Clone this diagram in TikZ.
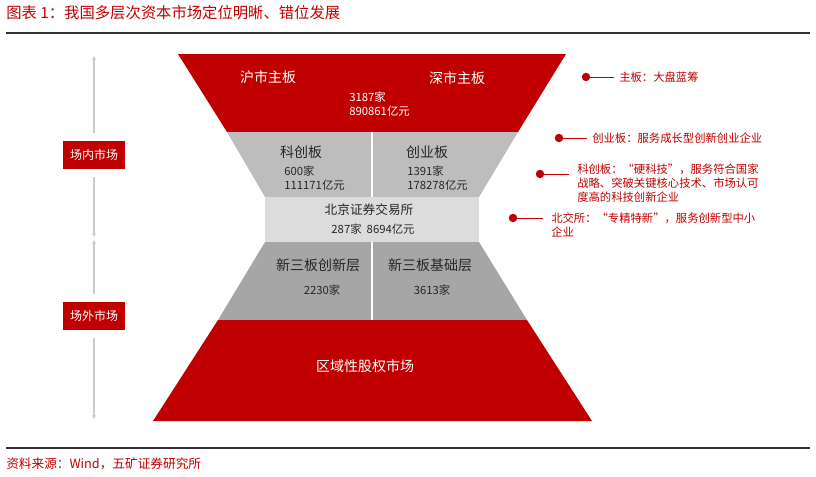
\documentclass[tikz,border=0pt]{standalone}
\usepackage{fontspec}
\usetikzlibrary{arrows.meta}
\setmainfont{Noto Sans CJK SC}
\begin{document}
\begin{tikzpicture}[x=0.75pt,y=-0.75pt,
  every node/.style={font=\fontsize{8.5}{10.5}\selectfont, inner sep=0pt},
  wt/.style={text=white},
  bt/.style={text=black!85},
  rt/.style={text=myred, anchor=west, align=left},
  mbox/.style={fill=myred, text=white, minimum width=46pt, minimum height=21pt, font=\fontsize{9}{10}\selectfont},
  ax/.style={draw=gray!40, line width=0.8pt, -{Stealth[length=3pt,width=3pt]}},
  leg/.style={draw=myred, line width=0.6pt}]
\definecolor{myred}{HTML}{C00000}
\definecolor{mygray}{HTML}{A6A6A6}
\definecolor{mygray2}{HTML}{BDBDBD}
\definecolor{mylight}{HTML}{DCDCDC}
\useasboundingbox (0,0) rectangle (816,476);
\node[anchor=west, text=myred, font=\fontsize{11.5}{13}\selectfont] (title) at (6,13) {图表 1：我国多层次资本市场定位明晰、错位发展};
\draw[line width=1pt, black!80] (6,33) -- (810,33);
\draw[line width=1pt, black!80] (6,448) -- (810,448);
\node[anchor=west, text=myred, font=\fontsize{9.5}{11}\selectfont] (src) at (6,464) {资料来源：Wind，五矿证券研究所};
% funnel
\fill[myred] (178,54) -- (566,54) -- (518,132) -- (227,132) -- cycle;
\fill[mygray2] (227,132) -- (518,132) -- (479,197) -- (265,197) -- cycle;
\fill[mylight] (265,197) rectangle (479,242);
\fill[mygray] (265,242) -- (479,242) -- (527,320) -- (218,320) -- cycle;
\fill[myred] (218,320) -- (527,320) -- (592,421) -- (153,421) -- cycle;
\draw[white, line width=1.2pt] (372,132) -- (372,197);
\draw[white, line width=1.2pt] (372,242) -- (372,320);
\node[wt, font=\fontsize{10.5}{12}\selectfont] (hu) at (268,77) {沪市主板};
\node[wt, font=\fontsize{10.5}{12}\selectfont] (sh) at (457,78) {深市主板};
\node[wt, align=left, anchor=west] (zb) at (349,104) {3187家\\890861亿元};
\node[bt, font=\fontsize{10.5}{12}\selectfont] (kc) at (301,152) {科创板};
\node[bt, align=left, anchor=west] (kcn) at (284,178) {600家\\111171亿元};
\node[bt, font=\fontsize{10.5}{12}\selectfont] (cy) at (427,152) {创业板};
\node[bt, align=left, anchor=west] (cyn) at (407,178) {1391家\\178278亿元};
\node[bt, font=\fontsize{9.5}{11}\selectfont] (bj) at (369,210) {北京证券交易所};
\node[bt] (bjn) at (373,229) {287家\ \ 8694亿元};
\node[bt, font=\fontsize{10.5}{12}\selectfont] (cx) at (318,265) {新三板创新层};
\node[bt] (cxn) at (322,290) {2230家};
\node[bt, font=\fontsize{10.5}{12}\selectfont] (jc) at (430,265) {新三板基础层};
\node[bt] (jcn) at (432,290) {3613家};
\node[wt, font=\fontsize{10.5}{12}\selectfont] (qy) at (365,366) {区域性股权市场};
% left axis
\node[mbox] (cn) at (94,155) {场内市场};
\node[mbox] (cw) at (94,316) {场外市场};
\coordinate (a1) at (94,56);
\coordinate (a2) at (94,237);
\coordinate (a3) at (94,240);
\coordinate (a4) at (94,419);
\draw[ax] ([yshift=6pt]cn.north) -- (a1);
\draw[ax] ([yshift=-6pt]cn.south) -- (a2);
\draw[ax] ([yshift=6pt]cw.north) -- (a3);
\draw[ax] ([yshift=-6pt]cw.south) -- (a4);
% legend
\fill[myred] (586,77) circle (4.2);
\coordinate (d1) at (586,77);
\node[rt] (l1) at (619,77) {主板：大盘蓝筹};
\draw[leg] (d1) -- (614,77);
\fill[myred] (559,138) circle (4.2);
\coordinate (d2) at (559,138);
\node[rt] (l2) at (592,138) {创业板：服务成长型创新创业企业};
\draw[leg] (d2) -- (587,138);
\fill[myred] (540,174) circle (4.2);
\coordinate (d3) at (540,174);
\node[rt] (l3) at (577,183) {科创板：“硬科技”，服务符合国家\\战略、突破关键核心技术、市场认可\\度高的科技创新企业};
\draw[leg] (d3) -- (569,174);
\fill[myred] (513,218) circle (4.2);
\coordinate (d4) at (513,218);
\node[rt] (l4) at (551,225) {北交所：“专精特新”，服务创新型中小\\企业};
\draw[leg] (d4) -- (543,218);
\end{tikzpicture}
\end{document}
